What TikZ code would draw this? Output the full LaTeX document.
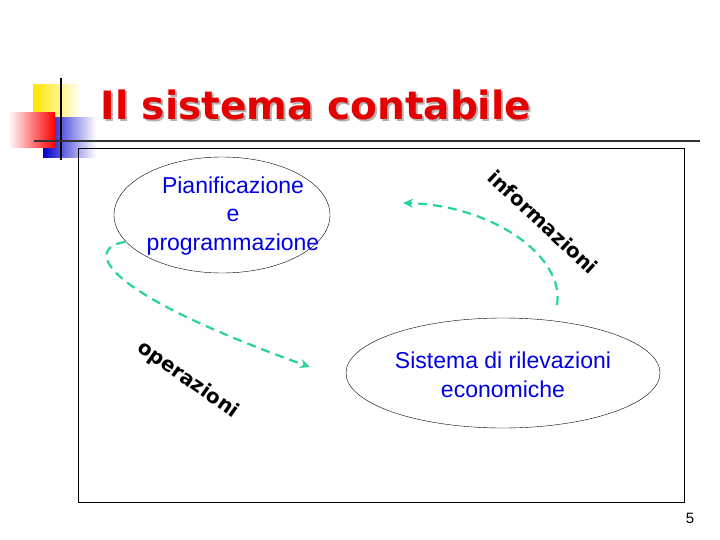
\documentclass[tikz,border=0pt]{standalone}
\usepackage{fontspec}
\setmainfont{Liberation Sans}
\newfontfamily\vb{DejaVu Sans}
\usetikzlibrary{arrows.meta}
\definecolor{flowc}{RGB}{40,210,160}
\begin{document}
\begin{tikzpicture}[x=1pt,y=-1pt,
  lbl/.style={text=blue!90!black,font=\fontsize{23}{28.5}\selectfont,align=center},
  flow/.style={draw=flowc,line width=2.2pt,dash pattern=on 9pt off 6pt,-{Stealth[length=10pt,width=9pt]}},
  rot/.style={font=\vb\bfseries\fontsize{20}{24}\selectfont}]
\useasboundingbox (0,0) rectangle (720,540);
\shade[left color=yellow!80!orange,right color=white] (33,85) rectangle (82,118);
\shade[left color=blue!80!black,right color=white] (43,118) rectangle (96,158);
\shade[left color=white,right color=red] (8,113) rectangle (55,148);
\draw[line width=1.5pt] (61,78) -- (61,160);
\draw[line width=1.5pt,black!80] (34,141) -- (700,141);
\node[anchor=base west,text=gray!60,font=\vb\bfseries\fontsize{39}{44}\selectfont] at (99,122) {Il sistema contabile};
\node[anchor=base west,text=red!90!black,font=\vb\bfseries\fontsize{39}{44}\selectfont] (title) at (97,120) {Il sistema contabile};
\node[draw,minimum width=606pt,minimum height=354pt,anchor=north west] (frame) at (78,148) {};
\draw (222,215) ellipse (108 and 58);
\node[lbl] (e1) at (233,216) {Pianificazione\\e\\programmazione};
\draw (503,373) ellipse (157 and 55);
\node[lbl] (e2) at (503,375) {Sistema di rilevazioni\\economiche};
\coordinate (a1) at (125,242);
\coordinate (a2) at (310,367);
\draw[flow] (a1) .. controls (85,248) and (95,290) .. (a2);
\coordinate (b1) at (557,305);
\coordinate (b2) at (403,203);
\draw[flow] (b1) .. controls (565,255) and (490,205) .. (b2);
\node[rot,rotate=-43] (inf) at (543,222) {informazioni};
\node[rot,rotate=-35] (op) at (188,380) {operazioni};
\node[font=\fontsize{15}{17}\selectfont] (pg) at (690,518) {5};
\end{tikzpicture}
\end{document}
